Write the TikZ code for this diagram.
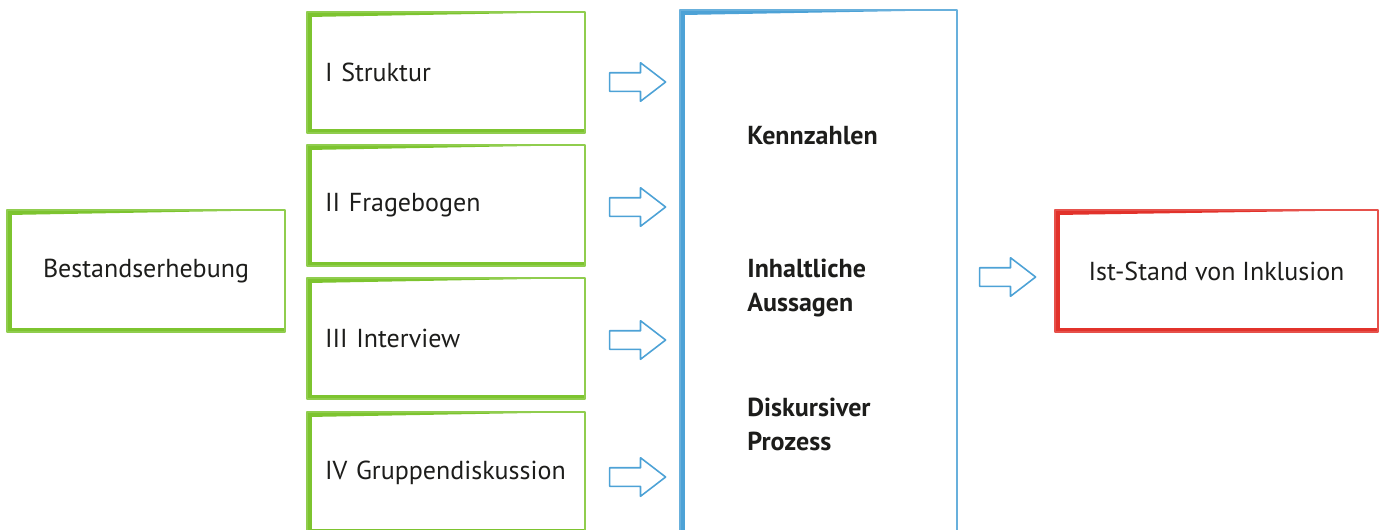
\documentclass[tikz,border=0pt]{standalone}
\usepackage{fontspec}
\setmainfont{PT Sans}
\usetikzlibrary{shapes.arrows,calc}
\definecolor{lgreen}{HTML}{7DC42F}
\definecolor{lblue}{HTML}{4DA2D6}
\definecolor{lred}{HTML}{E2322B}
\definecolor{ink}{HTML}{1D1D1B}
\newcommand{\boxfont}{\fontsize{14.8}{19.3}\selectfont}
\tikzset{
  every picture/.style={
    line join=round,
    line cap=round,
  },
  % hand-drawn frame: heavy left and bottom edge, top edge thins out
  sketch/.style={draw=#1!85, line width=1pt, text=ink, font=\boxfont,
    path picture={
      \fill[#1] (path picture bounding box.north west) -- (path picture bounding box.north east)
        -- ([yshift=-0.1cm]path picture bounding box.north west) -- cycle;
      \fill[#1] (path picture bounding box.north west) rectangle ([xshift=0.09cm]path picture bounding box.south west);
      \fill[#1] ([yshift=0.09cm]path picture bounding box.south west) rectangle (path picture bounding box.south east);
    }},
  stepbox/.style={sketch=lgreen, minimum width=5.56cm, minimum height=2.42cm,
    text width=4.84cm, inner xsep=0.36cm, align=left},
  hollow/.style={single arrow, draw=lblue, line width=0.9pt, fill=white,
    minimum height=1.12cm, inner xsep=0pt, inner ysep=0.17cm,
    single arrow head extend=0.2cm, single arrow tip angle=75, anchor=tail},
  result/.style={font=\boxfont\bfseries, text=ink, inner sep=0pt, anchor=west, align=left},
}
\begin{document}
\begin{tikzpicture}[x=0.02cm, y=-0.02cm]
    \useasboundingbox (0,0) rectangle (1381,529);

    % Survey
    \node[sketch=lgreen, minimum width=5.56cm, minimum height=2.44cm] (best) at (146,271) {Bestandserhebung};

    % The four instruments
    \node[stepbox] (s1) at (446,72.5) {I Struktur};
    \node[stepbox] (s2) at (446,205.5) {II Fragebogen};
    \node[stepbox] (s3) at (446,338.5) {III Interview};
    \node[stepbox] (s4) at (446,472.5) {IV Gruppendiskussion};

    % Results column
    \node[sketch=lblue, minimum width=5.54cm, minimum height=10.7cm] (res) at (818.5,277.5) {};
    \node[result] (r1) at (747,136) {Kennzahlen};
    \node[result] (r2) at (747,288) {Inhaltliche\\Aussagen};
    \node[result] (r3) at (747,424.5) {Diskursiver\\Prozess};

    % Outcome
    \node[sketch=lred, minimum width=6.46cm, minimum height=2.44cm] (ist) at (1216.5,271) {Ist-Stand von Inklusion};

    % Block arrows between the columns
    \node[hollow] (a1) at ([xshift=0.46cm, yshift=-0.19cm]s1.east) {};
    \node[hollow] (a2) at ([xshift=0.46cm, yshift=-0.03cm]s2.east) {};
    \node[hollow] (a3) at ([xshift=0.46cm, yshift=-0.03cm]s3.east) {};
    \node[hollow] (a4) at ([xshift=0.46cm, yshift=-0.09cm]s4.east) {};
    \node[hollow] (a5) at ([xshift=0.42cm, yshift=-0.12cm]res.east |- ist.west) {};
\end{tikzpicture}
\end{document}
